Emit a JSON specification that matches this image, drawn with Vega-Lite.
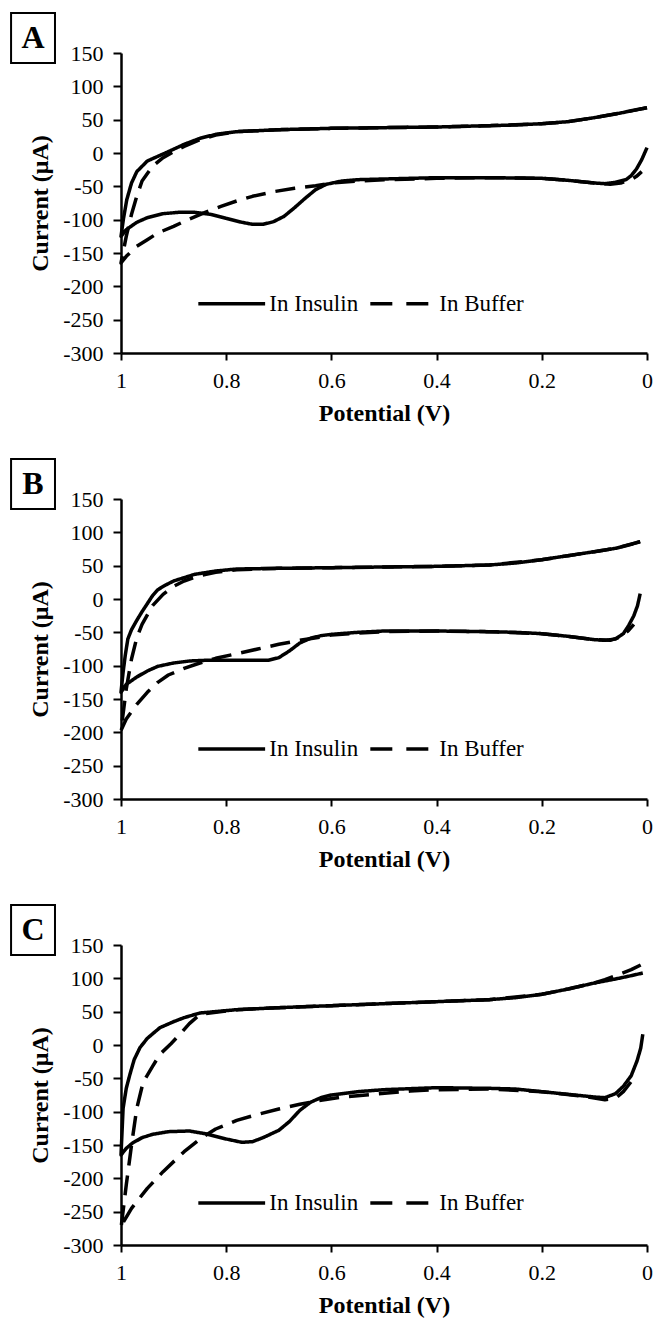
{
  "$schema": "https://vega.github.io/schema/vega-lite/v6.json",
  "background": "white",
  "padding": {"left": 10, "top": 12, "right": 5, "bottom": 5},
  "config": {
    "view": {"stroke": null},
    "font": "Liberation Serif",
    "axis": {"grid": false, "domainColor": "black", "domainWidth": 2.5, "tickColor": "black", "tickWidth": 2, "labelFont": "Liberation Serif", "labelFontSize": 22, "labelColor": "black", "titleFont": "Liberation Serif", "titleFontSize": 24, "titleFontWeight": "bold", "titleColor": "black", "labelFlush": false, "labelOverlap": false},
    "axisX": {"tickSize": 7, "labelPadding": 10, "titlePadding": 10},
    "axisY": {"tickSize": 8, "labelPadding": 10, "titlePadding": 10}
  },
  "data": {"values": [
    {"p":"A","s":"Insulin","i":0,"v":0,"c":68},{"p":"A","s":"Insulin","i":1,"v":0.02,"c":65},{"p":"A","s":"Insulin","i":2,"v":0.05,"c":60},{"p":"A","s":"Insulin","i":3,"v":0.1,"c":53},{"p":"A","s":"Insulin","i":4,"v":0.15,"c":47},{"p":"A","s":"Insulin","i":5,"v":0.2,"c":44},{"p":"A","s":"Insulin","i":6,"v":0.25,"c":42},{"p":"A","s":"Insulin","i":7,"v":0.3,"c":41},{"p":"A","s":"Insulin","i":8,"v":0.4,"c":39},{"p":"A","s":"Insulin","i":9,"v":0.5,"c":38},{"p":"A","s":"Insulin","i":10,"v":0.6,"c":37},{"p":"A","s":"Insulin","i":11,"v":0.7,"c":35},{"p":"A","s":"Insulin","i":12,"v":0.78,"c":32},{"p":"A","s":"Insulin","i":13,"v":0.82,"c":28},{"p":"A","s":"Insulin","i":14,"v":0.85,"c":22},{"p":"A","s":"Insulin","i":15,"v":0.88,"c":13},{"p":"A","s":"Insulin","i":16,"v":0.91,"c":2},{"p":"A","s":"Insulin","i":17,"v":0.93,"c":-5},{"p":"A","s":"Insulin","i":18,"v":0.95,"c":-12},{"p":"A","s":"Insulin","i":19,"v":0.97,"c":-28},{"p":"A","s":"Insulin","i":20,"v":0.98,"c":-45},{"p":"A","s":"Insulin","i":21,"v":0.989,"c":-70},{"p":"A","s":"Insulin","i":22,"v":0.995,"c":-97},{"p":"A","s":"Insulin","i":23,"v":1,"c":-125},{"p":"A","s":"Insulin","i":24,"v":0.99,"c":-115},{"p":"A","s":"Insulin","i":25,"v":0.97,"c":-104},{"p":"A","s":"Insulin","i":26,"v":0.95,"c":-97},{"p":"A","s":"Insulin","i":27,"v":0.92,"c":-91},{"p":"A","s":"Insulin","i":28,"v":0.89,"c":-89},{"p":"A","s":"Insulin","i":29,"v":0.86,"c":-89},{"p":"A","s":"Insulin","i":30,"v":0.83,"c":-92},{"p":"A","s":"Insulin","i":31,"v":0.8,"c":-98},{"p":"A","s":"Insulin","i":32,"v":0.77,"c":-104},{"p":"A","s":"Insulin","i":33,"v":0.75,"c":-107},{"p":"A","s":"Insulin","i":34,"v":0.73,"c":-107},{"p":"A","s":"Insulin","i":35,"v":0.71,"c":-103},{"p":"A","s":"Insulin","i":36,"v":0.69,"c":-95},{"p":"A","s":"Insulin","i":37,"v":0.67,"c":-82},{"p":"A","s":"Insulin","i":38,"v":0.65,"c":-68},{"p":"A","s":"Insulin","i":39,"v":0.63,"c":-55},{"p":"A","s":"Insulin","i":40,"v":0.61,"c":-47},{"p":"A","s":"Insulin","i":41,"v":0.58,"c":-42},{"p":"A","s":"Insulin","i":42,"v":0.55,"c":-40},{"p":"A","s":"Insulin","i":43,"v":0.5,"c":-39},{"p":"A","s":"Insulin","i":44,"v":0.4,"c":-37},{"p":"A","s":"Insulin","i":45,"v":0.3,"c":-37},{"p":"A","s":"Insulin","i":46,"v":0.2,"c":-38},{"p":"A","s":"Insulin","i":47,"v":0.15,"c":-41},{"p":"A","s":"Insulin","i":48,"v":0.1,"c":-45},{"p":"A","s":"Insulin","i":49,"v":0.08,"c":-46},{"p":"A","s":"Insulin","i":50,"v":0.06,"c":-44},{"p":"A","s":"Insulin","i":51,"v":0.04,"c":-40},{"p":"A","s":"Insulin","i":52,"v":0.03,"c":-34},{"p":"A","s":"Insulin","i":53,"v":0.02,"c":-24},{"p":"A","s":"Insulin","i":54,"v":0.01,"c":-10},{"p":"A","s":"Insulin","i":55,"v":0,"c":8},

    {"p":"A","s":"Buffer","i":0,"v":0,"c":68},{"p":"A","s":"Buffer","i":1,"v":0.05,"c":60},{"p":"A","s":"Buffer","i":2,"v":0.1,"c":53},{"p":"A","s":"Buffer","i":3,"v":0.15,"c":47},{"p":"A","s":"Buffer","i":4,"v":0.2,"c":44},{"p":"A","s":"Buffer","i":5,"v":0.3,"c":41},{"p":"A","s":"Buffer","i":6,"v":0.4,"c":39},{"p":"A","s":"Buffer","i":7,"v":0.5,"c":38},{"p":"A","s":"Buffer","i":8,"v":0.6,"c":37},{"p":"A","s":"Buffer","i":9,"v":0.7,"c":35},{"p":"A","s":"Buffer","i":10,"v":0.78,"c":32},{"p":"A","s":"Buffer","i":11,"v":0.82,"c":27},{"p":"A","s":"Buffer","i":12,"v":0.85,"c":20},{"p":"A","s":"Buffer","i":13,"v":0.88,"c":10},{"p":"A","s":"Buffer","i":14,"v":0.9,"c":2},{"p":"A","s":"Buffer","i":15,"v":0.92,"c":-7},{"p":"A","s":"Buffer","i":16,"v":0.94,"c":-20},{"p":"A","s":"Buffer","i":17,"v":0.96,"c":-42},{"p":"A","s":"Buffer","i":18,"v":0.97,"c":-65},{"p":"A","s":"Buffer","i":19,"v":0.98,"c":-92},{"p":"A","s":"Buffer","i":20,"v":0.99,"c":-125},{"p":"A","s":"Buffer","i":21,"v":1,"c":-165},{"p":"A","s":"Buffer","i":22,"v":0.99,"c":-155},{"p":"A","s":"Buffer","i":23,"v":0.97,"c":-140},{"p":"A","s":"Buffer","i":24,"v":0.95,"c":-130},{"p":"A","s":"Buffer","i":25,"v":0.93,"c":-120},{"p":"A","s":"Buffer","i":26,"v":0.9,"c":-110},{"p":"A","s":"Buffer","i":27,"v":0.87,"c":-99},{"p":"A","s":"Buffer","i":28,"v":0.84,"c":-89},{"p":"A","s":"Buffer","i":29,"v":0.81,"c":-80},{"p":"A","s":"Buffer","i":30,"v":0.78,"c":-72},{"p":"A","s":"Buffer","i":31,"v":0.75,"c":-65},{"p":"A","s":"Buffer","i":32,"v":0.71,"c":-58},{"p":"A","s":"Buffer","i":33,"v":0.67,"c":-53},{"p":"A","s":"Buffer","i":34,"v":0.63,"c":-49},{"p":"A","s":"Buffer","i":35,"v":0.6,"c":-45},{"p":"A","s":"Buffer","i":36,"v":0.55,"c":-42},{"p":"A","s":"Buffer","i":37,"v":0.5,"c":-40},{"p":"A","s":"Buffer","i":38,"v":0.4,"c":-38},{"p":"A","s":"Buffer","i":39,"v":0.3,"c":-37},{"p":"A","s":"Buffer","i":40,"v":0.2,"c":-38},{"p":"A","s":"Buffer","i":41,"v":0.15,"c":-41},{"p":"A","s":"Buffer","i":42,"v":0.1,"c":-45},{"p":"A","s":"Buffer","i":43,"v":0.07,"c":-47},{"p":"A","s":"Buffer","i":44,"v":0.05,"c":-45},{"p":"A","s":"Buffer","i":45,"v":0.03,"c":-40},{"p":"A","s":"Buffer","i":46,"v":0.02,"c":-35},{"p":"A","s":"Buffer","i":47,"v":0.01,"c":-28},

    {"p":"B","s":"Insulin","i":0,"v":0.013,"c":86},{"p":"B","s":"Insulin","i":1,"v":0.03,"c":82},{"p":"B","s":"Insulin","i":2,"v":0.06,"c":76},{"p":"B","s":"Insulin","i":3,"v":0.1,"c":71},{"p":"B","s":"Insulin","i":4,"v":0.15,"c":65},{"p":"B","s":"Insulin","i":5,"v":0.2,"c":59},{"p":"B","s":"Insulin","i":6,"v":0.25,"c":54},{"p":"B","s":"Insulin","i":7,"v":0.3,"c":51},{"p":"B","s":"Insulin","i":8,"v":0.4,"c":49},{"p":"B","s":"Insulin","i":9,"v":0.5,"c":48},{"p":"B","s":"Insulin","i":10,"v":0.6,"c":47},{"p":"B","s":"Insulin","i":11,"v":0.7,"c":46},{"p":"B","s":"Insulin","i":12,"v":0.78,"c":45},{"p":"B","s":"Insulin","i":13,"v":0.82,"c":42},{"p":"B","s":"Insulin","i":14,"v":0.86,"c":37},{"p":"B","s":"Insulin","i":15,"v":0.88,"c":32},{"p":"B","s":"Insulin","i":16,"v":0.9,"c":27},{"p":"B","s":"Insulin","i":17,"v":0.915,"c":21},{"p":"B","s":"Insulin","i":18,"v":0.93,"c":14},{"p":"B","s":"Insulin","i":19,"v":0.94,"c":5},{"p":"B","s":"Insulin","i":20,"v":0.95,"c":-7},{"p":"B","s":"Insulin","i":21,"v":0.96,"c":-19},{"p":"B","s":"Insulin","i":22,"v":0.97,"c":-32},{"p":"B","s":"Insulin","i":23,"v":0.98,"c":-46},{"p":"B","s":"Insulin","i":24,"v":0.987,"c":-60},{"p":"B","s":"Insulin","i":25,"v":0.992,"c":-85},{"p":"B","s":"Insulin","i":26,"v":0.996,"c":-110},{"p":"B","s":"Insulin","i":27,"v":1,"c":-140},{"p":"B","s":"Insulin","i":28,"v":0.99,"c":-128},{"p":"B","s":"Insulin","i":29,"v":0.97,"c":-117},{"p":"B","s":"Insulin","i":30,"v":0.95,"c":-108},{"p":"B","s":"Insulin","i":31,"v":0.93,"c":-101},{"p":"B","s":"Insulin","i":32,"v":0.9,"c":-96},{"p":"B","s":"Insulin","i":33,"v":0.87,"c":-93},{"p":"B","s":"Insulin","i":34,"v":0.84,"c":-92},{"p":"B","s":"Insulin","i":35,"v":0.8,"c":-92},{"p":"B","s":"Insulin","i":36,"v":0.76,"c":-92},{"p":"B","s":"Insulin","i":37,"v":0.72,"c":-92},{"p":"B","s":"Insulin","i":38,"v":0.7,"c":-88},{"p":"B","s":"Insulin","i":39,"v":0.68,"c":-78},{"p":"B","s":"Insulin","i":40,"v":0.66,"c":-66},{"p":"B","s":"Insulin","i":41,"v":0.64,"c":-59},{"p":"B","s":"Insulin","i":42,"v":0.62,"c":-55},{"p":"B","s":"Insulin","i":43,"v":0.6,"c":-53},{"p":"B","s":"Insulin","i":44,"v":0.55,"c":-50},{"p":"B","s":"Insulin","i":45,"v":0.5,"c":-48},{"p":"B","s":"Insulin","i":46,"v":0.4,"c":-48},{"p":"B","s":"Insulin","i":47,"v":0.3,"c":-49},{"p":"B","s":"Insulin","i":48,"v":0.25,"c":-50},{"p":"B","s":"Insulin","i":49,"v":0.2,"c":-52},{"p":"B","s":"Insulin","i":50,"v":0.15,"c":-56},{"p":"B","s":"Insulin","i":51,"v":0.1,"c":-61},{"p":"B","s":"Insulin","i":52,"v":0.08,"c":-62},{"p":"B","s":"Insulin","i":53,"v":0.06,"c":-60},{"p":"B","s":"Insulin","i":54,"v":0.045,"c":-52},{"p":"B","s":"Insulin","i":55,"v":0.035,"c":-40},{"p":"B","s":"Insulin","i":56,"v":0.025,"c":-25},{"p":"B","s":"Insulin","i":57,"v":0.018,"c":-10},{"p":"B","s":"Insulin","i":58,"v":0.013,"c":8},

    {"p":"B","s":"Buffer","i":0,"v":0.013,"c":86},{"p":"B","s":"Buffer","i":1,"v":0.06,"c":76},{"p":"B","s":"Buffer","i":2,"v":0.1,"c":71},{"p":"B","s":"Buffer","i":3,"v":0.15,"c":65},{"p":"B","s":"Buffer","i":4,"v":0.2,"c":59},{"p":"B","s":"Buffer","i":5,"v":0.3,"c":51},{"p":"B","s":"Buffer","i":6,"v":0.4,"c":49},{"p":"B","s":"Buffer","i":7,"v":0.5,"c":48},{"p":"B","s":"Buffer","i":8,"v":0.6,"c":47},{"p":"B","s":"Buffer","i":9,"v":0.7,"c":46},{"p":"B","s":"Buffer","i":10,"v":0.78,"c":44},{"p":"B","s":"Buffer","i":11,"v":0.82,"c":40},{"p":"B","s":"Buffer","i":12,"v":0.85,"c":35},{"p":"B","s":"Buffer","i":13,"v":0.88,"c":27},{"p":"B","s":"Buffer","i":14,"v":0.9,"c":19},{"p":"B","s":"Buffer","i":15,"v":0.92,"c":7},{"p":"B","s":"Buffer","i":16,"v":0.94,"c":-10},{"p":"B","s":"Buffer","i":17,"v":0.96,"c":-38},{"p":"B","s":"Buffer","i":18,"v":0.97,"c":-58},{"p":"B","s":"Buffer","i":19,"v":0.98,"c":-90},{"p":"B","s":"Buffer","i":20,"v":0.99,"c":-135},{"p":"B","s":"Buffer","i":21,"v":1,"c":-197},{"p":"B","s":"Buffer","i":22,"v":0.99,"c":-180},{"p":"B","s":"Buffer","i":23,"v":0.97,"c":-158},{"p":"B","s":"Buffer","i":24,"v":0.95,"c":-140},{"p":"B","s":"Buffer","i":25,"v":0.93,"c":-125},{"p":"B","s":"Buffer","i":26,"v":0.91,"c":-114},{"p":"B","s":"Buffer","i":27,"v":0.88,"c":-104},{"p":"B","s":"Buffer","i":28,"v":0.85,"c":-96},{"p":"B","s":"Buffer","i":29,"v":0.82,"c":-89},{"p":"B","s":"Buffer","i":30,"v":0.78,"c":-82},{"p":"B","s":"Buffer","i":31,"v":0.74,"c":-75},{"p":"B","s":"Buffer","i":32,"v":0.7,"c":-68},{"p":"B","s":"Buffer","i":33,"v":0.66,"c":-62},{"p":"B","s":"Buffer","i":34,"v":0.62,"c":-57},{"p":"B","s":"Buffer","i":35,"v":0.6,"c":-54},{"p":"B","s":"Buffer","i":36,"v":0.55,"c":-51},{"p":"B","s":"Buffer","i":37,"v":0.5,"c":-49},{"p":"B","s":"Buffer","i":38,"v":0.4,"c":-48},{"p":"B","s":"Buffer","i":39,"v":0.3,"c":-49},{"p":"B","s":"Buffer","i":40,"v":0.2,"c":-52},{"p":"B","s":"Buffer","i":41,"v":0.15,"c":-56},{"p":"B","s":"Buffer","i":42,"v":0.1,"c":-61},{"p":"B","s":"Buffer","i":43,"v":0.07,"c":-62},{"p":"B","s":"Buffer","i":44,"v":0.05,"c":-57},{"p":"B","s":"Buffer","i":45,"v":0.035,"c":-47},{"p":"B","s":"Buffer","i":46,"v":0.025,"c":-38},

    {"p":"C","s":"Insulin","i":0,"v":0.008,"c":108},{"p":"C","s":"Insulin","i":1,"v":0.03,"c":104},{"p":"C","s":"Insulin","i":2,"v":0.06,"c":99},{"p":"C","s":"Insulin","i":3,"v":0.1,"c":93},{"p":"C","s":"Insulin","i":4,"v":0.15,"c":84},{"p":"C","s":"Insulin","i":5,"v":0.2,"c":76},{"p":"C","s":"Insulin","i":6,"v":0.25,"c":71},{"p":"C","s":"Insulin","i":7,"v":0.3,"c":68},{"p":"C","s":"Insulin","i":8,"v":0.4,"c":65},{"p":"C","s":"Insulin","i":9,"v":0.5,"c":62},{"p":"C","s":"Insulin","i":10,"v":0.6,"c":59},{"p":"C","s":"Insulin","i":11,"v":0.7,"c":56},{"p":"C","s":"Insulin","i":12,"v":0.78,"c":53},{"p":"C","s":"Insulin","i":13,"v":0.85,"c":48},{"p":"C","s":"Insulin","i":14,"v":0.88,"c":41},{"p":"C","s":"Insulin","i":15,"v":0.9,"c":35},{"p":"C","s":"Insulin","i":16,"v":0.926,"c":26},{"p":"C","s":"Insulin","i":17,"v":0.95,"c":10},{"p":"C","s":"Insulin","i":18,"v":0.964,"c":-4},{"p":"C","s":"Insulin","i":19,"v":0.975,"c":-22},{"p":"C","s":"Insulin","i":20,"v":0.983,"c":-44},{"p":"C","s":"Insulin","i":21,"v":0.99,"c":-65},{"p":"C","s":"Insulin","i":22,"v":0.996,"c":-95},{"p":"C","s":"Insulin","i":23,"v":1,"c":-165},{"p":"C","s":"Insulin","i":24,"v":0.99,"c":-155},{"p":"C","s":"Insulin","i":25,"v":0.978,"c":-147},{"p":"C","s":"Insulin","i":26,"v":0.96,"c":-139},{"p":"C","s":"Insulin","i":27,"v":0.94,"c":-134},{"p":"C","s":"Insulin","i":28,"v":0.91,"c":-130},{"p":"C","s":"Insulin","i":29,"v":0.87,"c":-129},{"p":"C","s":"Insulin","i":30,"v":0.84,"c":-133},{"p":"C","s":"Insulin","i":31,"v":0.8,"c":-141},{"p":"C","s":"Insulin","i":32,"v":0.77,"c":-146},{"p":"C","s":"Insulin","i":33,"v":0.75,"c":-145},{"p":"C","s":"Insulin","i":34,"v":0.73,"c":-139},{"p":"C","s":"Insulin","i":35,"v":0.7,"c":-128},{"p":"C","s":"Insulin","i":36,"v":0.68,"c":-115},{"p":"C","s":"Insulin","i":37,"v":0.66,"c":-98},{"p":"C","s":"Insulin","i":38,"v":0.64,"c":-86},{"p":"C","s":"Insulin","i":39,"v":0.62,"c":-79},{"p":"C","s":"Insulin","i":40,"v":0.6,"c":-75},{"p":"C","s":"Insulin","i":41,"v":0.55,"c":-70},{"p":"C","s":"Insulin","i":42,"v":0.5,"c":-67},{"p":"C","s":"Insulin","i":43,"v":0.4,"c":-64},{"p":"C","s":"Insulin","i":44,"v":0.3,"c":-65},{"p":"C","s":"Insulin","i":45,"v":0.25,"c":-66},{"p":"C","s":"Insulin","i":46,"v":0.2,"c":-70},{"p":"C","s":"Insulin","i":47,"v":0.15,"c":-74},{"p":"C","s":"Insulin","i":48,"v":0.1,"c":-78},{"p":"C","s":"Insulin","i":49,"v":0.08,"c":-79},{"p":"C","s":"Insulin","i":50,"v":0.06,"c":-73},{"p":"C","s":"Insulin","i":51,"v":0.045,"c":-62},{"p":"C","s":"Insulin","i":52,"v":0.03,"c":-46},{"p":"C","s":"Insulin","i":53,"v":0.019,"c":-24},{"p":"C","s":"Insulin","i":54,"v":0.012,"c":-5},{"p":"C","s":"Insulin","i":55,"v":0.008,"c":16},

    {"p":"C","s":"Buffer","i":0,"v":0.012,"c":120},{"p":"C","s":"Buffer","i":1,"v":0.03,"c":113},{"p":"C","s":"Buffer","i":2,"v":0.05,"c":107},{"p":"C","s":"Buffer","i":3,"v":0.08,"c":98},{"p":"C","s":"Buffer","i":4,"v":0.1,"c":93},{"p":"C","s":"Buffer","i":5,"v":0.15,"c":84},{"p":"C","s":"Buffer","i":6,"v":0.2,"c":76},{"p":"C","s":"Buffer","i":7,"v":0.3,"c":68},{"p":"C","s":"Buffer","i":8,"v":0.4,"c":65},{"p":"C","s":"Buffer","i":9,"v":0.5,"c":62},{"p":"C","s":"Buffer","i":10,"v":0.6,"c":59},{"p":"C","s":"Buffer","i":11,"v":0.7,"c":56},{"p":"C","s":"Buffer","i":12,"v":0.78,"c":53},{"p":"C","s":"Buffer","i":13,"v":0.85,"c":46},{"p":"C","s":"Buffer","i":14,"v":0.87,"c":32},{"p":"C","s":"Buffer","i":15,"v":0.888,"c":16},{"p":"C","s":"Buffer","i":16,"v":0.905,"c":2},{"p":"C","s":"Buffer","i":17,"v":0.926,"c":-14},{"p":"C","s":"Buffer","i":18,"v":0.94,"c":-32},{"p":"C","s":"Buffer","i":19,"v":0.958,"c":-56},{"p":"C","s":"Buffer","i":20,"v":0.97,"c":-95},{"p":"C","s":"Buffer","i":21,"v":0.98,"c":-150},{"p":"C","s":"Buffer","i":22,"v":0.99,"c":-210},{"p":"C","s":"Buffer","i":23,"v":1,"c":-275},{"p":"C","s":"Buffer","i":24,"v":0.995,"c":-265},{"p":"C","s":"Buffer","i":25,"v":0.98,"c":-245},{"p":"C","s":"Buffer","i":26,"v":0.95,"c":-215},{"p":"C","s":"Buffer","i":27,"v":0.92,"c":-190},{"p":"C","s":"Buffer","i":28,"v":0.88,"c":-160},{"p":"C","s":"Buffer","i":29,"v":0.85,"c":-141},{"p":"C","s":"Buffer","i":30,"v":0.82,"c":-126},{"p":"C","s":"Buffer","i":31,"v":0.78,"c":-113},{"p":"C","s":"Buffer","i":32,"v":0.74,"c":-104},{"p":"C","s":"Buffer","i":33,"v":0.7,"c":-96},{"p":"C","s":"Buffer","i":34,"v":0.66,"c":-89},{"p":"C","s":"Buffer","i":35,"v":0.62,"c":-83},{"p":"C","s":"Buffer","i":36,"v":0.58,"c":-78},{"p":"C","s":"Buffer","i":37,"v":0.52,"c":-74},{"p":"C","s":"Buffer","i":38,"v":0.45,"c":-69},{"p":"C","s":"Buffer","i":39,"v":0.4,"c":-67},{"p":"C","s":"Buffer","i":40,"v":0.3,"c":-66},{"p":"C","s":"Buffer","i":41,"v":0.2,"c":-70},{"p":"C","s":"Buffer","i":42,"v":0.12,"c":-77},{"p":"C","s":"Buffer","i":43,"v":0.08,"c":-82},{"p":"C","s":"Buffer","i":44,"v":0.06,"c":-80},{"p":"C","s":"Buffer","i":45,"v":0.045,"c":-70},{"p":"C","s":"Buffer","i":46,"v":0.03,"c":-55},{"p":"C","s":"Buffer","i":47,"v":0.02,"c":-45}
  ]},
  "spacing": 146,
  "bounds": "flush",
  "vconcat": [
    {
      "width": 526, "height": 300,
      "layer": [
        {"transform": [{"filter": "datum.p == 'A'"}], "mark": {"type": "line", "strokeWidth": 3.5, "color": "black", "strokeJoin": "round"},
         "encoding": {
           "x": {"field": "v", "type": "quantitative", "title": "Potential (V)", "scale": {"domain": [0, 1], "reverse": true, "nice": false}, "axis": {"values": [0, 0.2, 0.4, 0.6, 0.8, 1], "labelExpr": "format(datum.value, '.1~f')", "labelFont": "Liberation Serif", "labelFontSize": 22, "labelOverlap": false, "labelFlush": false}},
           "y": {"field": "c", "type": "quantitative", "title": "Current (μA)", "scale": {"domain": [-300, 150], "nice": false}, "axis": {"values": [-300, -250, -200, -150, -100, -50, 0, 50, 100, 150], "labelExpr": "'' + datum.value", "labelFont": "Liberation Serif", "labelFontSize": 22, "labelOverlap": false, "labelFlush": false}},
           "strokeDash": {"field": "s", "type": "nominal", "scale": {"domain": ["Insulin", "Buffer"], "range": [[1, 0], [20, 10]]}, "legend": null},
           "order": {"field": "i", "type": "quantitative"}}},
        {"data": {"values": [{"t": "A"}]}, "mark": {"type": "rect", "fill": "white", "stroke": "black", "strokeWidth": 2},
         "encoding": {
           "x": {"datum": 1.209, "type": "quantitative", "title": "Potential (V)", "scale": {"domain": [0, 1], "reverse": true, "nice": false}, "axis": {"values": [0, 0.2, 0.4, 0.6, 0.8, 1], "labelExpr": "format(datum.value, '.1~f')", "labelFont": "Liberation Serif", "labelFontSize": 22, "labelOverlap": false, "labelFlush": false}},
           "x2": {"datum": 1.1255},
           "y": {"datum": 210, "type": "quantitative", "title": "Current (μA)", "scale": {"domain": [-300, 150], "nice": false}, "axis": {"values": [-300, -250, -200, -150, -100, -50, 0, 50, 100, 150], "labelExpr": "'' + datum.value", "labelFont": "Liberation Serif", "labelFontSize": 22, "labelOverlap": false, "labelFlush": false}},
           "y2": {"datum": 135}}},
        {"data": {"values": [{"t": "A", "u": "In Insulin", "w": "In Buffer"}]},
         "encoding": {
           "x": {"datum": 1.1673, "type": "quantitative", "title": "Potential (V)", "scale": {"domain": [0, 1], "reverse": true, "nice": false}, "axis": {"values": [0, 0.2, 0.4, 0.6, 0.8, 1], "labelExpr": "format(datum.value, '.1~f')", "labelFont": "Liberation Serif", "labelFontSize": 22, "labelOverlap": false, "labelFlush": false}},
           "y": {"datum": 172.5, "type": "quantitative", "title": "Current (μA)", "scale": {"domain": [-300, 150], "nice": false}, "axis": {"values": [-300, -250, -200, -150, -100, -50, 0, 50, 100, 150], "labelExpr": "'' + datum.value", "labelFont": "Liberation Serif", "labelFontSize": 22, "labelOverlap": false, "labelFlush": false}}},
         "layer": [
           {"mark": {"type": "text", "fontSize": 32, "fontWeight": "bold", "font": "Liberation Serif", "color": "black", "baseline": "middle", "align": "center"}, "encoding": {"text": {"field": "t"}}},
           {"mark": {"type": "rule", "strokeWidth": 3.5, "color": "black"}, "encoding": {"x": {"datum": 0.853, "type": "quantitative"}, "x2": {"datum": 0.726}, "y": {"datum": -226, "type": "quantitative"}}},
           {"mark": {"type": "rule", "strokeWidth": 3.5, "color": "black", "strokeDash": [22, 14]}, "encoding": {"x": {"datum": 0.526, "type": "quantitative"}, "x2": {"datum": 0.411}, "y": {"datum": -226, "type": "quantitative"}}},
           {"mark": {"type": "text", "fontSize": 23, "font": "Liberation Serif", "color": "black", "baseline": "middle", "align": "left"}, "encoding": {"x": {"datum": 0.718, "type": "quantitative"}, "y": {"datum": -226, "type": "quantitative"}, "text": {"field": "u"}}},
           {"mark": {"type": "text", "fontSize": 23, "font": "Liberation Serif", "color": "black", "baseline": "middle", "align": "left"}, "encoding": {"x": {"datum": 0.395, "type": "quantitative"}, "y": {"datum": -226, "type": "quantitative"}, "text": {"field": "w"}}}
         ]}
      ]
    },
    {
      "width": 526, "height": 300,
      "layer": [
        {"transform": [{"filter": "datum.p == 'B'"}], "mark": {"type": "line", "strokeWidth": 3.5, "color": "black", "strokeJoin": "round"},
         "encoding": {
           "x": {"field": "v", "type": "quantitative", "title": "Potential (V)", "scale": {"domain": [0, 1], "reverse": true, "nice": false}, "axis": {"values": [0, 0.2, 0.4, 0.6, 0.8, 1], "labelExpr": "format(datum.value, '.1~f')", "labelFont": "Liberation Serif", "labelFontSize": 22, "labelOverlap": false, "labelFlush": false}},
           "y": {"field": "c", "type": "quantitative", "title": "Current (μA)", "scale": {"domain": [-300, 150], "nice": false}, "axis": {"values": [-300, -250, -200, -150, -100, -50, 0, 50, 100, 150], "labelExpr": "'' + datum.value", "labelFont": "Liberation Serif", "labelFontSize": 22, "labelOverlap": false, "labelFlush": false}},
           "strokeDash": {"field": "s", "type": "nominal", "scale": {"domain": ["Insulin", "Buffer"], "range": [[1, 0], [20, 10]]}, "legend": null},
           "order": {"field": "i", "type": "quantitative"}}},
        {"data": {"values": [{"t": "B"}]}, "mark": {"type": "rect", "fill": "white", "stroke": "black", "strokeWidth": 2},
         "encoding": {
           "x": {"datum": 1.209, "type": "quantitative", "title": "Potential (V)", "scale": {"domain": [0, 1], "reverse": true, "nice": false}, "axis": {"values": [0, 0.2, 0.4, 0.6, 0.8, 1], "labelExpr": "format(datum.value, '.1~f')", "labelFont": "Liberation Serif", "labelFontSize": 22, "labelOverlap": false, "labelFlush": false}},
           "x2": {"datum": 1.1255},
           "y": {"datum": 210, "type": "quantitative", "title": "Current (μA)", "scale": {"domain": [-300, 150], "nice": false}, "axis": {"values": [-300, -250, -200, -150, -100, -50, 0, 50, 100, 150], "labelExpr": "'' + datum.value", "labelFont": "Liberation Serif", "labelFontSize": 22, "labelOverlap": false, "labelFlush": false}},
           "y2": {"datum": 135}}},
        {"data": {"values": [{"t": "B", "u": "In Insulin", "w": "In Buffer"}]},
         "encoding": {
           "x": {"datum": 1.1673, "type": "quantitative", "title": "Potential (V)", "scale": {"domain": [0, 1], "reverse": true, "nice": false}, "axis": {"values": [0, 0.2, 0.4, 0.6, 0.8, 1], "labelExpr": "format(datum.value, '.1~f')", "labelFont": "Liberation Serif", "labelFontSize": 22, "labelOverlap": false, "labelFlush": false}},
           "y": {"datum": 172.5, "type": "quantitative", "title": "Current (μA)", "scale": {"domain": [-300, 150], "nice": false}, "axis": {"values": [-300, -250, -200, -150, -100, -50, 0, 50, 100, 150], "labelExpr": "'' + datum.value", "labelFont": "Liberation Serif", "labelFontSize": 22, "labelOverlap": false, "labelFlush": false}}},
         "layer": [
           {"mark": {"type": "text", "fontSize": 32, "fontWeight": "bold", "font": "Liberation Serif", "color": "black", "baseline": "middle", "align": "center"}, "encoding": {"text": {"field": "t"}}},
           {"mark": {"type": "rule", "strokeWidth": 3.5, "color": "black"}, "encoding": {"x": {"datum": 0.853, "type": "quantitative"}, "x2": {"datum": 0.726}, "y": {"datum": -225, "type": "quantitative"}}},
           {"mark": {"type": "rule", "strokeWidth": 3.5, "color": "black", "strokeDash": [22, 14]}, "encoding": {"x": {"datum": 0.526, "type": "quantitative"}, "x2": {"datum": 0.411}, "y": {"datum": -225, "type": "quantitative"}}},
           {"mark": {"type": "text", "fontSize": 23, "font": "Liberation Serif", "color": "black", "baseline": "middle", "align": "left"}, "encoding": {"x": {"datum": 0.718, "type": "quantitative"}, "y": {"datum": -225, "type": "quantitative"}, "text": {"field": "u"}}},
           {"mark": {"type": "text", "fontSize": 23, "font": "Liberation Serif", "color": "black", "baseline": "middle", "align": "left"}, "encoding": {"x": {"datum": 0.395, "type": "quantitative"}, "y": {"datum": -225, "type": "quantitative"}, "text": {"field": "w"}}}
         ]}
      ]
    },
    {
      "width": 526, "height": 300,
      "layer": [
        {"transform": [{"filter": "datum.p == 'C'"}], "mark": {"type": "line", "strokeWidth": 3.5, "color": "black", "strokeJoin": "round"},
         "encoding": {
           "x": {"field": "v", "type": "quantitative", "title": "Potential (V)", "scale": {"domain": [0, 1], "reverse": true, "nice": false}, "axis": {"values": [0, 0.2, 0.4, 0.6, 0.8, 1], "labelExpr": "format(datum.value, '.1~f')", "labelFont": "Liberation Serif", "labelFontSize": 22, "labelOverlap": false, "labelFlush": false}},
           "y": {"field": "c", "type": "quantitative", "title": "Current (μA)", "scale": {"domain": [-300, 150], "nice": false}, "axis": {"values": [-300, -250, -200, -150, -100, -50, 0, 50, 100, 150], "labelExpr": "'' + datum.value", "labelFont": "Liberation Serif", "labelFontSize": 22, "labelOverlap": false, "labelFlush": false}},
           "strokeDash": {"field": "s", "type": "nominal", "scale": {"domain": ["Insulin", "Buffer"], "range": [[1, 0], [20, 10]]}, "legend": null},
           "order": {"field": "i", "type": "quantitative"}}},
        {"data": {"values": [{"t": "C"}]}, "mark": {"type": "rect", "fill": "white", "stroke": "black", "strokeWidth": 2},
         "encoding": {
           "x": {"datum": 1.209, "type": "quantitative", "title": "Potential (V)", "scale": {"domain": [0, 1], "reverse": true, "nice": false}, "axis": {"values": [0, 0.2, 0.4, 0.6, 0.8, 1], "labelExpr": "format(datum.value, '.1~f')", "labelFont": "Liberation Serif", "labelFontSize": 22, "labelOverlap": false, "labelFlush": false}},
           "x2": {"datum": 1.1255},
           "y": {"datum": 210, "type": "quantitative", "title": "Current (μA)", "scale": {"domain": [-300, 150], "nice": false}, "axis": {"values": [-300, -250, -200, -150, -100, -50, 0, 50, 100, 150], "labelExpr": "'' + datum.value", "labelFont": "Liberation Serif", "labelFontSize": 22, "labelOverlap": false, "labelFlush": false}},
           "y2": {"datum": 135}}},
        {"data": {"values": [{"t": "C", "u": "In Insulin", "w": "In Buffer"}]},
         "encoding": {
           "x": {"datum": 1.1673, "type": "quantitative", "title": "Potential (V)", "scale": {"domain": [0, 1], "reverse": true, "nice": false}, "axis": {"values": [0, 0.2, 0.4, 0.6, 0.8, 1], "labelExpr": "format(datum.value, '.1~f')", "labelFont": "Liberation Serif", "labelFontSize": 22, "labelOverlap": false, "labelFlush": false}},
           "y": {"datum": 172.5, "type": "quantitative", "title": "Current (μA)", "scale": {"domain": [-300, 150], "nice": false}, "axis": {"values": [-300, -250, -200, -150, -100, -50, 0, 50, 100, 150], "labelExpr": "'' + datum.value", "labelFont": "Liberation Serif", "labelFontSize": 22, "labelOverlap": false, "labelFlush": false}}},
         "layer": [
           {"mark": {"type": "text", "fontSize": 32, "fontWeight": "bold", "font": "Liberation Serif", "color": "black", "baseline": "middle", "align": "center"}, "encoding": {"text": {"field": "t"}}},
           {"mark": {"type": "rule", "strokeWidth": 3.5, "color": "black"}, "encoding": {"x": {"datum": 0.853, "type": "quantitative"}, "x2": {"datum": 0.726}, "y": {"datum": -237, "type": "quantitative"}}},
           {"mark": {"type": "rule", "strokeWidth": 3.5, "color": "black", "strokeDash": [22, 14]}, "encoding": {"x": {"datum": 0.526, "type": "quantitative"}, "x2": {"datum": 0.411}, "y": {"datum": -237, "type": "quantitative"}}},
           {"mark": {"type": "text", "fontSize": 23, "font": "Liberation Serif", "color": "black", "baseline": "middle", "align": "left"}, "encoding": {"x": {"datum": 0.718, "type": "quantitative"}, "y": {"datum": -237, "type": "quantitative"}, "text": {"field": "u"}}},
           {"mark": {"type": "text", "fontSize": 23, "font": "Liberation Serif", "color": "black", "baseline": "middle", "align": "left"}, "encoding": {"x": {"datum": 0.395, "type": "quantitative"}, "y": {"datum": -237, "type": "quantitative"}, "text": {"field": "w"}}}
         ]}
      ]
    }
  ]
}
